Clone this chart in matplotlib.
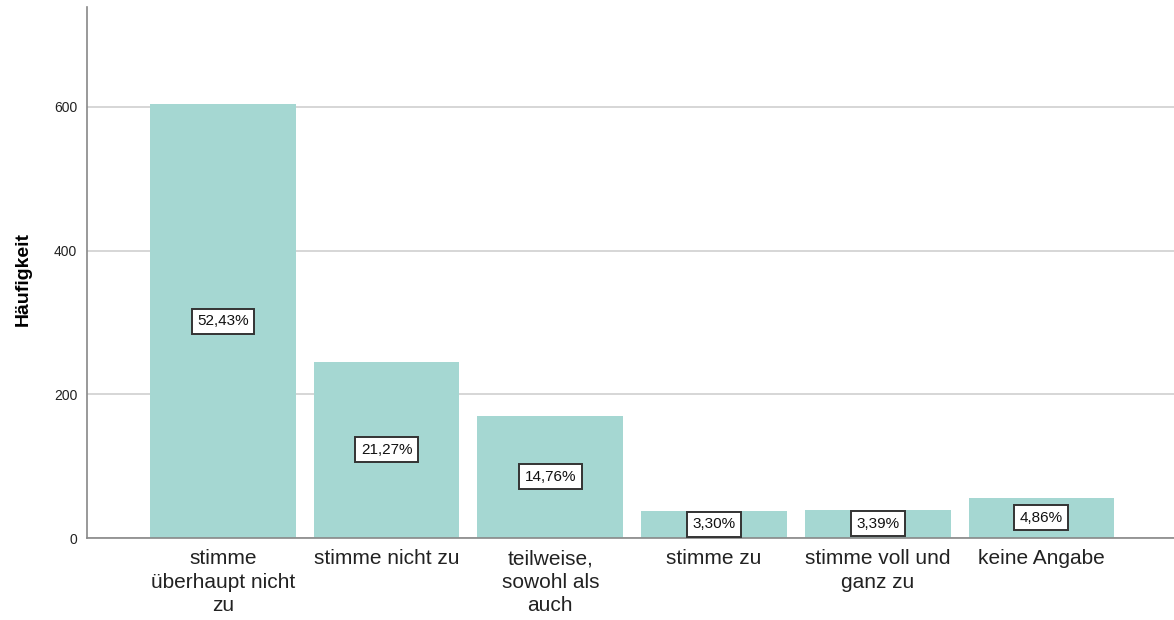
import matplotlib
matplotlib.use("Agg")
import matplotlib.pyplot as plt

categories = ["stimme\nüberhaupt nicht\nzu", "stimme nicht zu", "teilweise,\nsowohl als\nauch",
              "stimme zu", "stimme voll und\nganz zu", "keine Angabe"]
counts = [604, 245, 170, 38, 39, 56]
percent_labels = ["52,43%", "21,27%", "14,76%", "3,30%", "3,39%", "4,86%"]
yticks = [0, 200, 400, 600]

plt.rcParams['font.family'] = ['Liberation Sans', 'DejaVu Sans']

fig = plt.figure(figsize=(11.74, 6.2), dpi=100)
ax = fig.add_axes([87/1174, 1 - 538/620, (1174 - 87)/1174, (538 - 7)/620])

x = list(range(len(categories)))
ax.bar(x, counts, width=0.89, color="#A5D7D2", zorder=2)
ax.set_xlim(-0.83, 5.81)
ax.set_ylim(0, 739)

ax.set_yticks(yticks)
ax.set_yticklabels([str(t) for t in yticks], fontsize=10, color="#222222")
ax.set_xticks(x)
ax.set_xticklabels(categories, fontsize=15, color="#222222", linespacing=1.3)
ax.tick_params(axis='both', length=0)
ax.tick_params(axis='y', pad=7)
ax.tick_params(axis='x', pad=8)

ax.grid(axis='y', color="#D0D0D0", linewidth=1.2, zorder=1)
for s in ['top', 'right']:
    ax.spines[s].set_visible(False)
ax.spines['left'].set_color("#888888")
ax.spines['bottom'].set_color("#888888")
ax.spines['left'].set_linewidth(1.2)
ax.spines['bottom'].set_linewidth(1.2)

ax.set_ylabel("Häufigkeit", fontsize=14, fontweight='bold')
ax.yaxis.set_label_coords(-55/1087, (538 - 279)/531)

for xi, c, lab in zip(x, counts, percent_labels):
    ax.text(xi, c / 2, lab, ha='center', va='center', fontsize=11, color="#111111", zorder=3,
            bbox=dict(boxstyle='square,pad=0.36', facecolor='white', edgecolor='#333333', linewidth=1.4))

fig.savefig("out.png", dpi=100)
